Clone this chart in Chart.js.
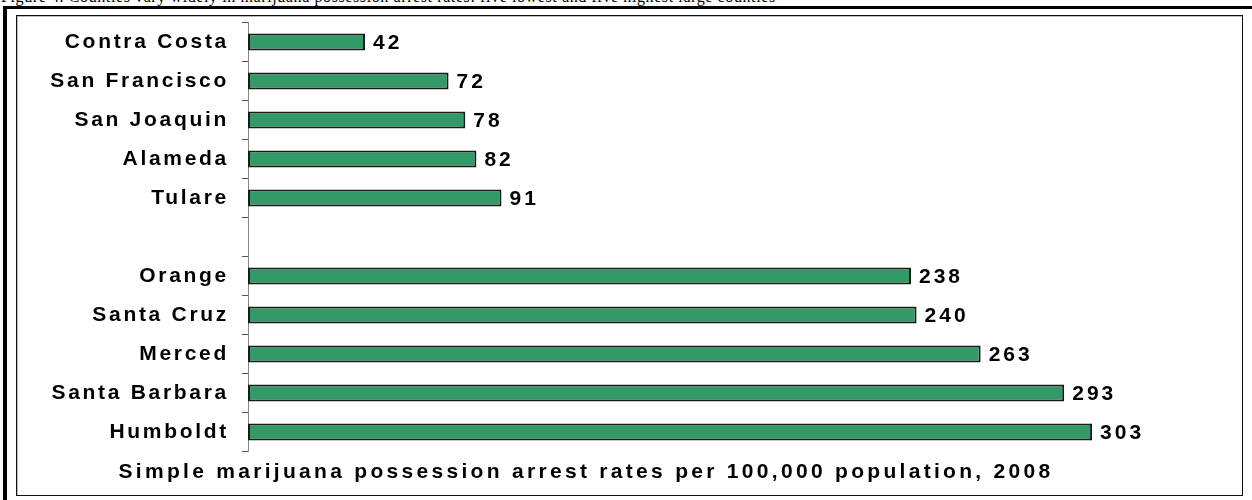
<!DOCTYPE html>
<html>
<head>
<meta charset="utf-8">
<script src="https://cdn.jsdelivr.net/npm/chart.js@4.4.1/dist/chart.umd.min.js"></script>
<style>
  body { margin: 0; background: #fff; width: 1252px; height: 500px; overflow: hidden; position: relative; }
  #hdr { position: absolute; left: 1px; top: -12px; font: 16px "Liberation Serif", "Times New Roman", serif; letter-spacing: 0.6px; white-space: nowrap; color: #000; }
  #outerTop { position: absolute; left: 3px; top: 6px; width: 1249px; height: 3px; background: #000; }
  #outerLeft { position: absolute; left: 3px; top: 6px; width: 4px; height: 494px; background: #000; }
  #box { position: absolute; left: 16px; top: 15px; width: 1225px; height: 479px; border: 1px solid #111; box-shadow: inset 1px 1px 0 #bbb; }
  #chart { position: absolute; left: 17px; top: 16px; }
</style>
</head>
<body>
<div id="hdr">Figure 4. Counties vary widely in marijuana possession arrest rates: five lowest and five highest large counties</div>
<div id="outerTop"></div>
<div id="outerLeft"></div>
<div id="box"></div>
<canvas id="chart" width="1225" height="479"></canvas>
<script>
// Condados (linha vazia separa os mais baixos dos mais altos)
const counties = [
  "Contra Costa",
  "San Francisco",
  "San Joaquin",
  "Alameda",
  "Tulare",
  "",
  "Orange",
  "Santa Cruz",
  "Merced",
  "Santa Barbara",
  "Humboldt",
];
const arrestRates = [42, 72, 78, 82, 91, null, 238, 240, 263, 293, 303];
const caption = "Simple marijuana possession arrest rates per 100,000 population, 2008";

const SPACING = "2.7px";
const labelFont = { family: "'Liberation Sans', Arial, sans-serif", size: 21, weight: "bold" };

// espaçamento entre letras no canvas (o contexto perde isso quando é redimensionado)
const letterSpacingPlugin = {
  id: "letterSpacing",
  beforeUpdate(chart) { chart.ctx.letterSpacing = SPACING; },
  beforeDraw(chart) { chart.ctx.letterSpacing = SPACING; },
};

// valores ao lado de cada barra + legenda do eixo x
const valueLabels = {
  id: "valueLabels",
  afterDatasetsDraw(chart) {
    const ctx = chart.ctx;
    const meta = chart.getDatasetMeta(0);
    ctx.save();
    ctx.letterSpacing = "3px";
    ctx.font = "bold 21px 'Liberation Sans', Arial, sans-serif";
    ctx.fillStyle = "#000";
    ctx.textAlign = "left";
    ctx.textBaseline = "middle";
    meta.data.forEach((bar, i) => {
      const v = arrestRates[i];
      if (v == null) return;
      ctx.fillText(String(v), bar.x + 8, bar.y + 1);
    });
    ctx.letterSpacing = "3.3px";
    ctx.textAlign = "center";
    ctx.fillText(caption, 569, 456);
    ctx.restore();
  },
};

new Chart(document.getElementById("chart"), {
  type: "bar",
  data: {
    labels: counties,
    datasets: [
      {
        data: arrestRates,
        backgroundColor: "#339966",
        borderColor: "#1a1a1a",
        borderWidth: 2,
        borderSkipped: false,
        categoryPercentage: 1,
        barPercentage: 0.43,
      },
    ],
  },
  options: {
    indexAxis: "y",
    responsive: false,
    animation: false,
    layout: { padding: { left: 0, top: 6.5, right: 19, bottom: 43.5 } },
    plugins: { legend: { display: false }, tooltip: { enabled: false } },
    scales: {
      x: { display: false, min: 0, max: 350 },
      y: {
        afterFit(scale) {
          scale.width = 231;
          scale.paddingTop = 0;
          scale.paddingBottom = 0;
        },
        grid: { drawOnChartArea: false, tickLength: 6, color: "#555", lineWidth: 1 },
        border: { display: true, color: "#888", width: 1 },
        ticks: { color: "#000", font: labelFont, padding: 13 },
      },
    },
  },
  plugins: [letterSpacingPlugin, valueLabels],
});
</script>
</body>
</html>
